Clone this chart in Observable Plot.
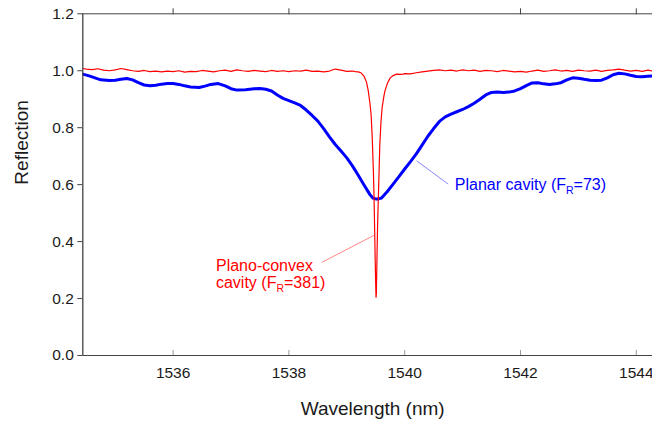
<!DOCTYPE html>
<html><head><meta charset="utf-8">
<script src="https://cdn.jsdelivr.net/npm/d3@7"></script>
<script src="https://cdn.jsdelivr.net/npm/@observablehq/plot@0.6"></script>
<style>body{margin:0;background:#fff}#chart{width:652px;height:421px}</style>
</head><body><div id="chart"></div>
<script>
// ---- data ----
const xTicks = [1536, 1538, 1540, 1542, 1544];
const yTicks = [0, 0.2, 0.4, 0.6, 0.8, 1.0, 1.2];
const xDomain = [1534.44, 1544.28];
const yDomain = [0, 1.2];
const xTitle = "Wavelength (nm)";
const yTitle = "Reflection";

// Plano-convex cavity (red)
const redWl = [1534.44,1534.5,1534.6,1534.7,1534.8,1534.9,1535.0,1535.1,1535.2,1535.3,1535.4,1535.5,1535.6,1535.7,1535.8,1535.9,
1536.0,1536.1,1536.2,1536.3,1536.4,1536.5,1536.6,1536.7,1536.8,1536.9,1537.0,1537.1,1537.2,1537.3,1537.4,1537.5,1537.6,1537.7,1537.8,1537.9,
1538.0,1538.1,1538.2,1538.3,1538.4,1538.5,1538.6,1538.7,1538.8,1538.9,1539.0,1539.1,1539.15,1539.2,1539.25,1539.3,1539.34,1539.37,1539.40,
1539.42,1539.44,1539.46,1539.47,1539.48,1539.49,1539.50,1539.505,1539.51,1539.52,1539.53,1539.54,1539.55,1539.57,1539.59,1539.61,1539.64,
1539.66,1539.70,1539.75,1539.80,1539.86,1539.95,1540.0,1540.1,1540.2,1540.3,1540.4,1540.5,1540.6,1540.7,1540.8,1540.9,1541.0,1541.1,1541.2,
1541.3,1541.4,1541.5,1541.6,1541.7,1541.8,1541.9,1542.0,1542.1,1542.2,1542.3,1542.4,1542.5,1542.6,1542.7,1542.8,1542.9,1543.0,1543.1,1543.2,
1543.3,1543.4,1543.5,1543.6,1543.7,1543.8,1543.9,1544.0,1544.1,1544.2,1544.28];
const redR = [1.008,1.006,1.004,1.007,1.002,1.000,1.003,1.008,1.004,1.000,0.998,1.001,0.997,0.999,0.996,0.999,
0.997,1.000,0.995,0.998,0.997,1.001,0.999,0.996,1.000,1.002,0.998,1.003,1.000,0.998,1.001,0.999,0.997,1.001,0.998,1.000,
0.997,1.000,0.999,1.002,0.998,0.999,0.996,0.999,1.006,1.002,0.998,0.999,0.997,0.996,0.992,0.980,0.960,0.930,0.885,
0.845,0.760,0.640,0.560,0.450,0.340,0.240,0.205,0.215,0.330,0.440,0.520,0.590,0.740,0.820,0.870,0.910,
0.930,0.955,0.975,0.983,0.988,0.987,0.990,0.989,0.993,0.996,0.999,1.001,1.003,1.000,1.002,0.999,1.003,1.000,1.002,
0.998,1.001,1.000,0.997,1.001,0.999,0.996,0.998,0.995,0.999,1.002,0.998,1.000,1.003,0.999,1.001,0.998,1.002,1.000,0.999,
1.002,0.998,1.001,1.003,1.006,1.002,0.999,1.001,0.998,1.002,0.999];

// Planar cavity (blue)
const blueWl = [1534.44,1534.55,1534.65,1534.75,1534.9,1535.0,1535.1,1535.2,1535.3,1535.4,1535.5,1535.6,1535.7,1535.8,1535.9,1536.0,
1536.1,1536.2,1536.3,1536.45,1536.55,1536.65,1536.78,1536.9,1537.0,1537.1,1537.25,1537.4,1537.5,1537.6,1537.7,1537.8,1537.9,1538.0,
1538.1,1538.2,1538.3,1538.4,1538.5,1538.6,1538.7,1538.8,1538.9,1539.0,1539.1,1539.2,1539.3,1539.4,1539.45,1539.5,1539.55,1539.6,
1539.7,1539.8,1539.9,1540.0,1540.1,1540.2,1540.3,1540.4,1540.5,1540.6,1540.7,1540.8,1540.9,1541.0,1541.1,1541.2,1541.3,1541.4,
1541.5,1541.6,1541.7,1541.8,1541.9,1542.0,1542.1,1542.2,1542.3,1542.4,1542.5,1542.6,1542.7,1542.8,1542.9,1543.0,1543.1,1543.2,
1543.3,1543.4,1543.5,1543.6,1543.7,1543.8,1543.9,1544.0,1544.1,1544.2,1544.28];
const blueR = [0.988,0.982,0.975,0.968,0.966,0.967,0.970,0.973,0.968,0.958,0.950,0.947,0.949,0.953,0.955,0.955,
0.952,0.947,0.943,0.941,0.946,0.952,0.955,0.947,0.937,0.932,0.933,0.937,0.938,0.935,0.929,0.915,0.903,0.895,
0.887,0.878,0.862,0.843,0.823,0.797,0.768,0.741,0.718,0.694,0.665,0.632,0.598,0.565,0.553,0.550,0.550,0.553,
0.576,0.602,0.628,0.655,0.681,0.708,0.739,0.770,0.797,0.822,0.838,0.848,0.856,0.864,0.874,0.886,0.900,0.915,
0.924,0.925,0.924,0.925,0.929,0.937,0.948,0.957,0.958,0.954,0.952,0.954,0.958,0.968,0.975,0.974,0.970,0.967,
0.966,0.967,0.975,0.986,0.991,0.989,0.984,0.980,0.979,0.981,0.982];

// annotations
const labelText = ["Plano-convex", "cavity (F_R=381)", "Planar cavity (F_R=73)"];
const labelX = [1536.74, 1536.74, 1540.866];
const labelY = [0.316, 0.254, 0.599];
const labelColor = ["#ff0000", "#ff0000", "#0000ff"];
const leaderX1 = [1538.568, 1540.205];
const leaderY1 = [0.327, 0.684];
const leaderX2 = [1539.487, 1540.75];
const leaderY2 = [0.424, 0.602];
const leaderColor = ["#ff4040", "#4040ff"];

// ---- build tables ----
const red = redWl.map((w, i) => ({w, r: redR[i]}));
const blue = blueWl.map((w, i) => ({w, r: blueR[i]}));
const labels = labelText.map((t, i) => ({t, x: labelX[i], y: labelY[i], c: labelColor[i]}));
const leaders = leaderX1.map((x1, i) => ({x1, y1: leaderY1[i], x2: leaderX2[i], y2: leaderY2[i], c: leaderColor[i]}));

const axisColor = "#444";
const chart = Plot.plot({
  width: 652, height: 421,
  marginLeft: 82.3, marginRight: 0, marginTop: 13.3, marginBottom: 66,
  style: {fontFamily: "'Liberation Sans', Arial, sans-serif", fontSize: "15.5px", color: "#1a1a1a", background: "#fff"},
  x: {domain: xDomain, axis: null},
  y: {domain: yDomain, axis: null},
  marks: [
    Plot.line(blue, {x: "w", y: "r", stroke: "#0000ff", strokeWidth: 3, clip: true}),
    Plot.line(red, {x: "w", y: "r", stroke: "#ff0000", strokeWidth: 1.2, clip: true}),
    Plot.link(leaders, {x1: "x1", y1: "y1", x2: "x2", y2: "y2", stroke: "c", strokeWidth: 0.9, strokeOpacity: 0.7}),
    Plot.text(labels, {x: "x", y: "y", text: "t", fill: "c", textAnchor: "start", fontSize: 16}),
    Plot.ruleY([yDomain[0]], {stroke: axisColor}),
    Plot.ruleY([yDomain[1]], {stroke: axisColor}),
    Plot.ruleX([xDomain[0]], {stroke: axisColor, strokeWidth: 1.3}),
    Plot.axisY(yTicks, {anchor: "left", tickSize: 5, tickPadding: 4, tickFormat: d3.format(".1f"), label: null, stroke: axisColor, fill: "#1a1a1a"}),
    Plot.axisX(xTicks, {anchor: "bottom", tickSize: -5, tickPadding: 16.7, tickFormat: d => String(d), label: null, stroke: "#999", fill: "#1a1a1a"}),
    Plot.axisX(xTicks, {anchor: "top", tickSize: 6, tickFormat: () => "", label: null, stroke: axisColor}),
    Plot.text([xTitle], {frameAnchor: "bottom", dy: 53, dx: 5, fontSize: 19, lineAnchor: "middle", fill: "#1a1a1a"}),
    Plot.text([yTitle], {frameAnchor: "left", dx: -61, rotate: -90, fontSize: 19, lineAnchor: "middle", fill: "#1a1a1a"})
  ]
});

// subscripts for F_R
const ns = "http://www.w3.org/2000/svg";
chart.querySelectorAll("text").forEach(t => {
  const s = t.textContent;
  const i = s.indexOf("_R");
  if (i < 0) return;
  t.textContent = "";
  const a = document.createElementNS(ns, "tspan"); a.textContent = s.slice(0, i);
  const b = document.createElementNS(ns, "tspan"); b.textContent = "R";
  b.setAttribute("font-size", "10.5"); b.setAttribute("dy", "4");
  const c = document.createElementNS(ns, "tspan"); c.textContent = s.slice(i + 2);
  c.setAttribute("dy", "-4");
  t.append(a, b, c);
});
document.getElementById("chart").append(chart);
</script>
</body></html>
